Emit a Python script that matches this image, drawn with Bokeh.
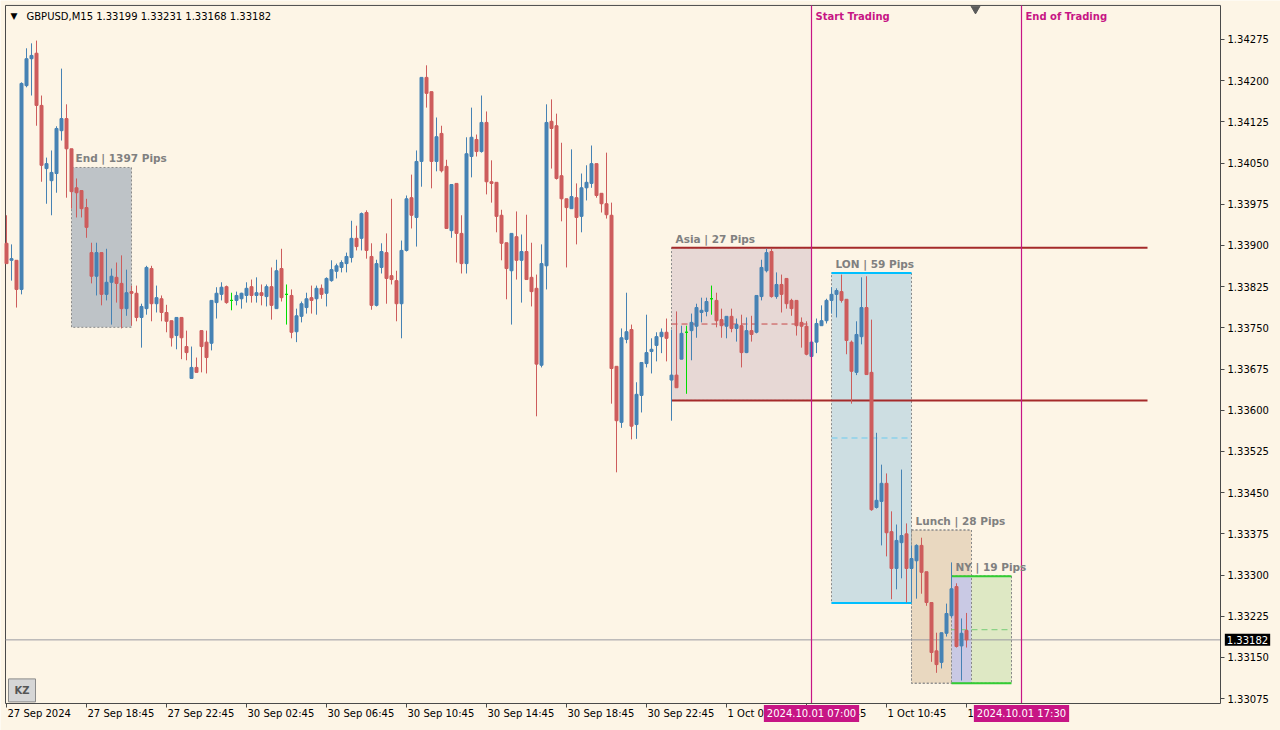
from bokeh.plotting import figure
from bokeh.models import Range1d, FixedTicker, PrintfTickFormatter, Label, LinearAxis, ColumnDataSource
from bokeh.embed import file_html
from bokeh.resources import INLINE

# ---------------- data (GBPUSD M15, 27 Sep 14:45 -> 1 Oct 14:45) ----------------
open_ = [1.33904,1.33873,1.33873,1.33820,1.34191,1.34240,1.34250,1.34155,1.34040,1.34018,
         1.34031,1.34109,1.34131,1.34076,1.34005,1.34000,1.33969,1.33887,1.33844,1.33887,
         1.33811,1.33833,1.33842,1.33831,1.33785,1.33816,1.33813,1.33769,1.33785,1.33858,
         1.33794,1.33803,1.33778,1.33763,1.33736,1.33769,1.33716,1.33658,1.33678,1.33745,
         1.33724,1.33722,1.33796,1.33811,1.33825,1.33800,1.33800,1.33803,1.33809,1.33825,
         1.33809,1.33814,1.33807,1.33825,1.33785,1.33858,1.33811,1.33809,1.33743,1.33771,
         1.33787,1.33805,1.33803,1.33822,1.33813,1.33836,1.33853,1.33860,1.33867,1.33878,
         1.33913,1.33913,1.33960,1.33880,1.33791,1.33860,1.33887,1.33845,1.33836,1.33794,
         1.33891,1.33987,1.33951,1.34053,1.34206,1.34180,1.34053,1.34104,1.34044,1.33927,
         1.34013,1.33922,1.33867,1.34062,1.34093,1.34071,1.34124,1.34016,1.34015,1.33955,
         1.33905,1.33854,1.33916,1.33873,1.33889,1.33842,1.33822,1.33682,1.33863,1.34126,
         1.34118,1.34027,1.33985,1.33967,1.33987,1.33953,1.34005,1.34013,1.34049,1.33995,
         1.33976,1.33955,1.33680,1.33578,1.33729,1.33747,1.33574,1.33627,1.33685,1.33707,
         1.33718,1.33734,1.33742,1.33655,1.33664,1.33693,1.33742,1.33745,1.33753,1.33778,
         1.33780,1.33803,1.33800,1.33765,1.33753,1.33771,1.33749,1.33754,1.33705,1.33745,
         1.33742,1.33807,1.33854,1.33889,1.33807,1.33829,1.33840,1.33800,1.33800,1.33760,
         1.33753,1.33698,1.33724,1.33754,1.33763,1.33800,1.33811,1.33816,1.33802,1.33724,
         1.33669,1.33734,1.33787,1.33669,1.33423,1.33434,1.33467,1.33379,1.33312,1.33359,
         1.33375,1.33312,1.33326,1.33354,1.33306,1.33250,1.33162,1.33141,1.33194,1.33226,
         1.33279,1.33171,1.33199]
high_ = [1.33955,1.33902,1.33873,1.34197,1.34259,1.34268,1.34273,1.34173,1.34060,1.34073,
         1.34117,1.34222,1.34157,1.34076,1.34022,1.34000,1.33985,1.33905,1.33905,1.33887,
         1.33894,1.33858,1.33869,1.33882,1.33856,1.33827,1.33827,1.33794,1.33863,1.33863,
         1.33827,1.33809,1.33792,1.33763,1.33769,1.33769,1.33745,1.33716,1.33696,1.33745,
         1.33745,1.33800,1.33824,1.33833,1.33827,1.33814,1.33816,1.33814,1.33833,1.33838,
         1.33842,1.33829,1.33829,1.33860,1.33874,1.33894,1.33829,1.33820,1.33785,1.33798,
         1.33814,1.33827,1.33827,1.33829,1.33842,1.33873,1.33867,1.33873,1.33887,1.33945,
         1.33936,1.33960,1.33964,1.33904,1.33874,1.33904,1.33922,1.33985,1.33854,1.33909,
         1.33991,1.34029,1.34073,1.34206,1.34228,1.34180,1.34133,1.34118,1.34056,1.34011,
         1.34013,1.33955,1.34097,1.34151,1.34102,1.34173,1.34144,1.34055,1.34015,1.33965,
         1.33905,1.33922,1.33962,1.33920,1.33956,1.33905,1.33847,1.33902,1.34157,1.34166,
         1.34140,1.34087,1.33985,1.34075,1.34013,1.34031,1.34046,1.34082,1.34049,1.33995,
         1.34069,1.33978,1.33680,1.33749,1.33814,1.33756,1.33651,1.33687,1.33774,1.33731,
         1.33742,1.33749,1.33767,1.33747,1.33780,1.33754,1.33754,1.33776,1.33794,1.33805,
         1.33805,1.33827,1.33814,1.33785,1.33771,1.33785,1.33767,1.33774,1.33769,1.33772,
         1.33809,1.33874,1.33894,1.33894,1.33851,1.33847,1.33840,1.33803,1.33800,1.33769,
         1.33762,1.33724,1.33767,1.33791,1.33803,1.33824,1.33822,1.33847,1.33802,1.33727,
         1.33762,1.33842,1.33844,1.33765,1.33559,1.33501,1.33485,1.33416,1.33392,1.33492,
         1.33394,1.33354,1.33356,1.33368,1.33306,1.33250,1.33195,1.33195,1.33248,1.33323,
         1.33285,1.33221,1.33231]
low_ = [1.33867,1.33836,1.33787,1.33811,1.34188,1.34173,1.34118,1.34016,1.33976,1.33955,
        1.33996,1.34091,1.33987,1.33967,1.33951,1.33951,1.33914,1.33831,1.33809,1.33791,
        1.33800,1.33756,1.33796,1.33749,1.33772,1.33754,1.33762,1.33714,1.33774,1.33762,
        1.33778,1.33762,1.33742,1.33716,1.33711,1.33693,1.33691,1.33658,1.33669,1.33669,
        1.33667,1.33709,1.33767,1.33800,1.33794,1.33782,1.33791,1.33785,1.33796,1.33796,
        1.33796,1.33791,1.33789,1.33765,1.33785,1.33798,1.33756,1.33731,1.33724,1.33760,
        1.33776,1.33776,1.33774,1.33803,1.33789,1.33834,1.33840,1.33851,1.33851,1.33869,
        1.33891,1.33891,1.33876,1.33783,1.33789,1.33849,1.33794,1.33829,1.33762,1.33731,
        1.33889,1.33931,1.33898,1.34007,1.34151,1.34004,1.34035,1.34033,1.33931,1.33914,
        1.33869,1.33849,1.33849,1.34024,1.34062,1.34069,1.33993,1.33978,1.33924,1.33873,
        1.33802,1.33756,1.33838,1.33796,1.33838,1.33789,1.33589,1.33678,1.33820,1.34040,
        1.34020,1.33944,1.33860,1.33967,1.33902,1.33924,1.33982,1.34005,1.33987,1.33960,
        1.33949,1.33612,1.33487,1.33568,1.33722,1.33547,1.33548,1.33596,1.33678,1.33667,
        1.33689,1.33704,1.33689,1.33581,1.33641,1.33693,1.33630,1.33691,1.33732,1.33760,
        1.33771,1.33774,1.33751,1.33732,1.33731,1.33742,1.33725,1.33678,1.33704,1.33725,
        1.33740,1.33800,1.33851,1.33805,1.33803,1.33778,1.33785,1.33772,1.33736,1.33714,
        1.33700,1.33696,1.33704,1.33754,1.33758,1.33776,1.33769,1.33796,1.33702,1.33612,
        1.33664,1.33720,1.33665,1.33417,1.33421,1.33354,1.33334,1.33256,1.33274,1.33294,
        1.33250,1.33250,1.33257,1.33266,1.33244,1.33142,1.33122,1.33130,1.33188,1.33223,
        1.33168,1.33108,1.33168]
close_ = [1.33867,1.33876,1.33820,1.34195,1.34240,1.34246,1.34155,1.34046,1.34049,1.34033,
          1.34113,1.34131,1.34076,1.33998,1.33996,1.33967,1.33933,1.33844,1.33887,1.33811,
          1.33833,1.33844,1.33831,1.33785,1.33814,1.33813,1.33769,1.33789,1.33860,1.33794,
          1.33805,1.33778,1.33762,1.33732,1.33769,1.33732,1.33705,1.33678,1.33669,1.33716,
          1.33696,1.33800,1.33813,1.33824,1.33796,1.33800,1.33809,1.33813,1.33822,1.33809,
          1.33814,1.33809,1.33825,1.33791,1.33854,1.33805,1.33811,1.33742,1.33772,1.33794,
          1.33803,1.33800,1.33822,1.33811,1.33840,1.33856,1.33863,1.33869,1.33880,1.33913,
          1.33898,1.33958,1.33891,1.33791,1.33867,1.33889,1.33840,1.33838,1.33794,1.33891,
          1.33985,1.33955,1.34053,1.34206,1.34177,1.34053,1.34098,1.34036,1.33931,1.34011,
          1.33922,1.33867,1.34067,1.34097,1.34071,1.34124,1.34016,1.34013,1.33953,1.33904,
          1.33858,1.33922,1.33873,1.33889,1.33838,1.33816,1.33684,1.33867,1.34124,1.34113,
          1.34022,1.33985,1.33969,1.33989,1.33951,1.34005,1.34015,1.34049,1.33991,1.33976,
          1.33956,1.33676,1.33581,1.33732,1.33743,1.33571,1.33629,1.33687,1.33705,1.33711,
          1.33734,1.33742,1.33731,1.33664,1.33641,1.33740,1.33742,1.33760,1.33787,1.33782,
          1.33798,1.33803,1.33763,1.33754,1.33771,1.33749,1.33756,1.33705,1.33745,1.33738,
          1.33809,1.33860,1.33887,1.33807,1.33829,1.33811,1.33794,1.33785,1.33754,1.33753,
          1.33702,1.33724,1.33758,1.33763,1.33800,1.33811,1.33818,1.33800,1.33727,1.33671,
          1.33738,1.33787,1.33665,1.33419,1.33436,1.33467,1.33377,1.33312,1.33363,1.33372,
          1.33312,1.33330,1.33354,1.33305,1.33250,1.33159,1.33137,1.33195,1.33230,1.33275,
          1.33170,1.33194,1.33182]

time_ticks = [0, 16, 32, 48, 64, 80, 96, 112, 128, 144, 160, 176, 192]
time_labels = ["27 Sep 2024", "27 Sep 18:45", "27 Sep 22:45", "30 Sep 02:45", "30 Sep 06:45",
               "30 Sep 10:45", "30 Sep 14:45", "30 Sep 18:45", "30 Sep 22:45", "1 Oct 02:45",
               "1 Oct 06:45", "1 Oct 10:45", "1 Oct 14:45"]
price_ticks = [1.33075, 1.33150, 1.33225, 1.33300, 1.33375, 1.33450, 1.33525, 1.33600, 1.33675,
               1.33750, 1.33825, 1.33900, 1.33975, 1.34050, 1.34125, 1.34200, 1.34275]

# session boxes: name, start bar, end bar, top, bottom, pips
box_names = ["End", "Asia", "LON", "Lunch", "NY"]
box_start = [13, 133, 165, 181, 189]
box_end = [25, 161, 181, 193, 201]
box_top = [1.34042, 1.33896, 1.33850, 1.33382, 1.33298]
box_bottom = [1.33751, 1.33618, 1.33249, 1.33103, 1.33103]
box_pips = [1397, 27, 59, 28, 19]
asia_line_end = 228.2
start_bar, end_bar = 161, 203
start_tag, end_tag = "2024.10.01 07:00", "2024.10.01 17:30"
last_price = 1.33182
header = "GBPUSD,M15  1.33199 1.33231 1.33168 1.33182"

# ---------------- layout (chart window) ----------------
X0, X1 = -0.2, 242.8          # price-area left / right edge (bars)
Y0, Y1 = 1.33066, 1.34337     # price-area bottom / top (price)
TXT_Y = 1.34317               # top text row
AX_Y = 1.33048                # time-label row
BG = "#FDF5E6"
BULL = "#4682B4"
BEAR = "#CD5C5C"
DOJI = "#00DD00"
MAG = "#C71585"
FRAME = "#4A4A4A"
box_fill = ["#BEC3C7", "#E7D8D5", "#CDDEE2", "#E9D8C0", "#DEE8C4"]

p = figure(width=1280, height=730,
           x_range=Range1d(-1.2, 254.8), y_range=Range1d(1.33017, 1.34346),
           output_backend="svg", toolbar_location=None,
           x_axis_location=None, y_axis_location=None,
           min_border=0, min_border_left=0, min_border_right=0, min_border_top=0, min_border_bottom=0,
           background_fill_color=BG, border_fill_color=BG)
p.grid.visible = False
p.outline_line_color = None

# price axis on the right edge of the price area
yax = LinearAxis(fixed_location=X1, bounds=(Y0, Y1),
                 ticker=FixedTicker(ticks=price_ticks),
                 formatter=PrintfTickFormatter(format="%.5f"),
                 major_label_text_font="DejaVu Sans", major_label_text_font_size="10px",
                 major_label_text_color="black", major_tick_out=4, major_tick_in=0,
                 minor_tick_out=0, minor_tick_in=0, major_label_standoff=3,
                 axis_line_color=FRAME, major_tick_line_color=FRAME)
p.add_layout(yax, "right")
# time axis along the bottom edge (tick marks; labels written left-aligned below)
xax = LinearAxis(fixed_location=Y0, bounds=(X0, X1),
                 ticker=FixedTicker(ticks=time_ticks),
                 major_label_overrides={t: "" for t in time_ticks},
                 major_label_text_font_size="0px", major_tick_out=4, major_tick_in=0,
                 minor_tick_out=0, minor_tick_in=0,
                 axis_line_color=FRAME, major_tick_line_color=FRAME)
p.add_layout(xax, "below")

# left / top border of the price area
p.segment(x0=[X0, X0], x1=[X0, X1], y0=[Y0, Y1], y1=[Y1, Y1], line_color=FRAME, line_width=1)

# session boxes
p.quad(left=box_start, right=box_end, top=box_top, bottom=box_bottom,
       fill_color=box_fill, fill_alpha=1.0, line_color="#8A8A8A", line_dash="2 2", line_width=1)
p.quad(left=[box_start[4]], right=[box_end[3]], top=[box_top[4]], bottom=[box_bottom[4]],
       fill_color="#C9C9E4", line_color=None)
p.quad(left=box_start[3:], right=box_end[3:], top=box_top[3:], bottom=box_bottom[3:],
       fill_color=None, line_color="#8A8A8A", line_dash="2 2", line_width=1)

mid = [(t + b) / 2 for t, b in zip(box_top, box_bottom)]
p.segment(x0=[box_start[1]] * 2, x1=[asia_line_end] * 2, y0=[box_top[1], box_bottom[1]],
          y1=[box_top[1], box_bottom[1]], line_color="#A52A2A", line_width=2)
p.segment(x0=[box_start[1]], x1=[box_end[1]], y0=[mid[1]], y1=[mid[1]],
          line_color="#C84848", line_dash="6 4", line_width=1)
p.segment(x0=[box_start[2]] * 2, x1=[box_end[2]] * 2, y0=[box_top[2], box_bottom[2]],
          y1=[box_top[2], box_bottom[2]], line_color="#00BFFF", line_width=2)
p.segment(x0=[box_start[2]], x1=[box_end[2]], y0=[mid[2]], y1=[mid[2]],
          line_color="#6CCBEF", line_dash="6 4", line_width=1)
p.segment(x0=[box_start[4]] * 2, x1=[box_end[4]] * 2, y0=[box_top[4], box_bottom[4]],
          y1=[box_top[4], box_bottom[4]], line_color="#32CD32", line_width=2)
p.segment(x0=[box_start[4]], x1=[box_end[4]], y0=[mid[4]], y1=[mid[4]],
          line_color="#77CC77", line_dash="6 4", line_width=1)

# current price line
p.line(x=[X0, X1], y=[last_price, last_price], line_color="#9A9AA2", line_width=1)

# candles
n = len(close_)
colors = [BULL if c > o else (BEAR if c < o else DOJI) for o, c in zip(open_, close_)]
src = ColumnDataSource(dict(
    x=list(range(n)), h=high_, l=low_,
    top=[max(o, c) for o, c in zip(open_, close_)],
    bottom=[min(o, c) for o, c in zip(open_, close_)],
    color=colors))
p.segment(x0="x", x1="x", y0="h", y1="l", line_color="color", line_width=1, source=src)
p.vbar(x="x", width=0.6, top="top", bottom="bottom", fill_color="color", line_color="color",
       line_width=1, source=src)

# trading window (vertical lines)
for b in (start_bar, end_bar):
    p.line(x=[b, b], y=[Y0, Y1], line_color=MAG, line_width=1.2, line_alpha=1.0)

# chart-shift marker
p.scatter(x=[193.8], y=[1.34331], marker="inverted_triangle", size=9,
          fill_color="#5A5A5A", line_color="#5A5A5A")

# session labels
for i, nm in enumerate(box_names):
    p.add_layout(Label(x=box_start[i], y=box_top[i], x_offset=4, y_offset=3,
                       text=f"{nm} | {box_pips[i]} Pips", text_align="left",
                       text_baseline="bottom", text_font="DejaVu Sans", text_font_style="bold",
                       text_font_size="10.5px", text_color="#808080"))

for b, lab in ((start_bar, "Start Trading"), (end_bar, "End of Trading")):
    p.add_layout(Label(x=b, y=TXT_Y, x_offset=4, text=lab, text_align="left",
                       text_baseline="middle", text_font="DejaVu Sans", text_font_style="bold",
                       text_font_size="10px", text_color=MAG))

# header
p.add_layout(Label(x=0.8, y=TXT_Y, text="\u25BC", text_align="left", text_baseline="middle",
                   text_font="DejaVu Sans", text_font_size="9px", text_color="black"))
p.add_layout(Label(x=4.0, y=TXT_Y, text=header, text_align="left", text_baseline="middle",
                   text_font="DejaVu Sans", text_font_size="10px", text_color="black"))

# KZ button
p.add_layout(Label(x=3.1, y=1.33090, text="KZ", text_align="center", text_baseline="middle",
                   text_font="DejaVu Sans", text_font_style="bold", text_font_size="10px",
                   text_color="#555555", background_fill_color="#D6D6D6",
                   border_line_color="#8A8A8A", padding=6))

# time labels (left-aligned at ticks, MT4 style)
for t, lab in zip(time_ticks, time_labels):
    p.add_layout(Label(x=t, y=AX_Y, x_offset=1, text=lab, text_align="left",
                       text_baseline="middle", text_font="DejaVu Sans", text_font_size="10px",
                       text_color="black"))

# trading window time tags
for b, lab in ((start_bar, start_tag), (end_bar, end_tag)):
    p.add_layout(Label(x=b, y=AX_Y, text=lab, text_align="center",
                       text_baseline="middle", text_font="DejaVu Sans", text_font_size="10px",
                       text_color="white", background_fill_color=MAG, padding=3))

# current price tag on the price axis
p.add_layout(Label(x=248.2, y=last_price, text=f"{last_price:.5f}", text_align="center",
                   text_baseline="middle", text_font="DejaVu Sans", text_font_size="10px",
                   text_color="white", background_fill_color="black", padding=2))

open("out.html", "w").write(file_html(p, INLINE))
